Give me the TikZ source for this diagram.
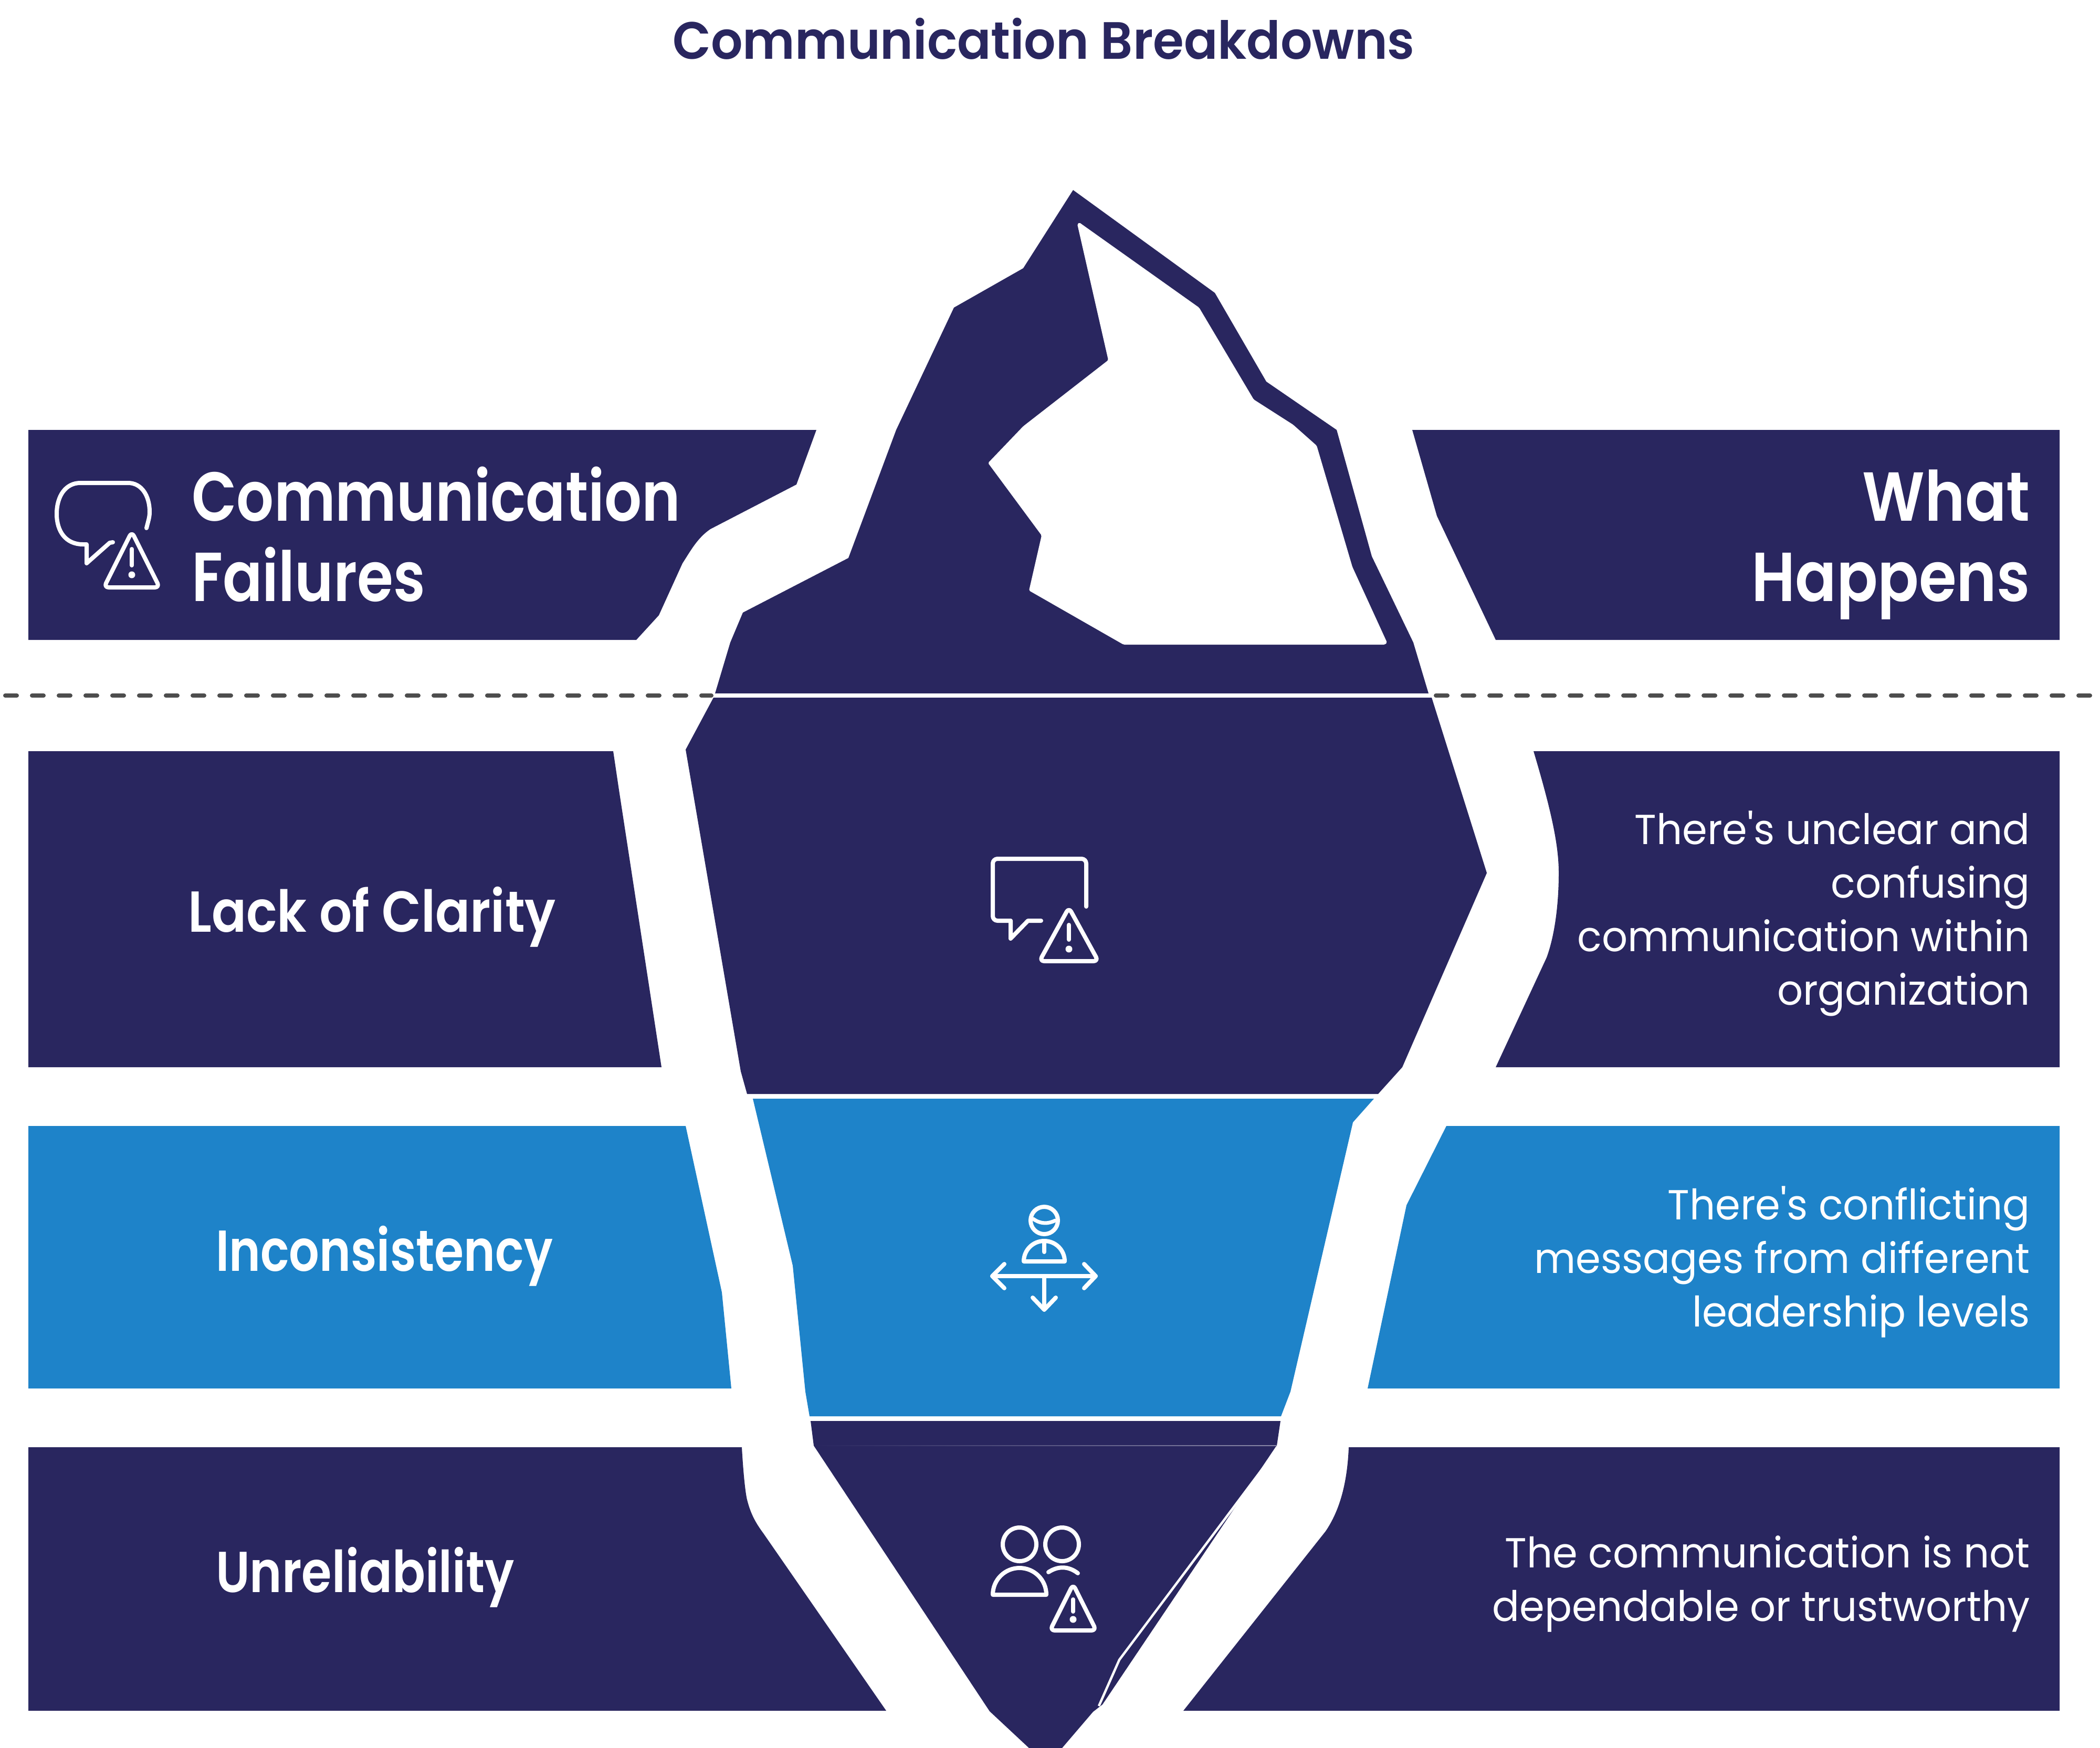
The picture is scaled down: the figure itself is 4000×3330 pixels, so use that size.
\documentclass[tikz,border=0pt]{standalone}
\usepackage{fontspec}
\setmainfont{Poppins}
\newfontfamily\headf[FakeStretch=0.845]{Poppins SemiBold}
\newfontfamily\titlef[FakeStretch=0.95]{Poppins SemiBold}
\newfontfamily\bodyf[FakeStretch=0.96]{Poppins}
\definecolor{navy}{HTML}{29265F}
\definecolor{sky}{HTML}{1E83C9}
\definecolor{dashc}{HTML}{4D4D4D}
\tikzset{
 panel/.style={fill=navy,draw=none},
 bluepanel/.style={fill=sky,draw=none},
 ico/.style={draw=white,line width=8pt,line cap=round,line join=round},
 head/.style={text=white,inner sep=0pt,font=\headf\fontsize{132}{153}\selectfont},
 sub/.style={text=white,inner sep=0pt,font=\headf\fontsize{110}{120}\selectfont},
 desc/.style={text=white,inner sep=0pt,align=right,font=\bodyf\fontsize{80}{102}\selectfont},
 wl/.style={dashc,line width=8pt,line cap=round,dash pattern=on 22pt off 29pt}
}
\newcommand{\warnicon}[7]{% apex x, apex y, half width, bottom y, excl top, excl bot, dot y
 \draw[ico,rounded corners=9pt] (#1,#2-4) -- (#1+#3+6,#4) -- (#1-#3-6,#4) -- cycle;
 \draw[ico] (#1,#5) -- (#1,#6);
 \fill[white] (#1,#7) circle[radius=6.5];
}
\begin{document}
\begin{tikzpicture}[x=1pt,y=-1pt]
\useasboundingbox (0,0) rectangle (4000,3330);
\fill[white] (0,0) rectangle (4000,3330);
% dashes
\coordinate (dl1) at (10,1325); \coordinate (dl2) at (1355,1325);
\coordinate (dr1) at (2735,1325); \coordinate (dr2) at (3990,1325);
\draw[wl] (dl1) -- (dl2);
\draw[wl] (dr1) -- (dr2);
% left panels
\fill[panel] (54,819) -- (1555,819) -- (1517,923) -- (1353,1008) .. controls (1328,1025) and (1315,1050) .. (1300,1073) -- (1255,1172) -- (1212,1219) -- (54,1219) -- cycle;
\fill[panel] (54,1431) -- (1168,1431) -- (1179,1505) -- (1260,2033) -- (54,2033) -- cycle;
\fill[bluepanel] (54,2145) -- (1306,2145) -- (1375,2462) -- (1393,2645) -- (54,2645) -- cycle;
\fill[panel] (54,2757) -- (1413,2757) .. controls (1416,2810) and (1420,2845) .. (1423,2857) .. controls (1430,2885) and (1440,2902) .. (1454,2921) -- (1688,3259) -- (54,3259) -- cycle;
% right panels
\fill[panel] (2690,819) -- (3923,819) -- (3923,1219) -- (2849,1219) -- (2737,983) -- cycle;
\fill[panel] (2921,1431) -- (3923,1431) -- (3923,2033) -- (2849,2033) -- (2946,1824) .. controls (2962,1780) and (2969,1720) .. (2969,1663) .. controls (2969,1610) and (2955,1545) .. (2921,1431) -- cycle;
\fill[bluepanel] (2755,2145) -- (3923,2145) -- (3923,2645) -- (2605,2645) -- (2679,2296) -- cycle;
\fill[panel] (2569,2757) -- (3923,2757) -- (3923,3259) -- (2254,3259) -- (2525,2917) .. controls (2550,2880) and (2566,2830) .. (2569,2757) -- cycle;
% iceberg top
\fill[panel] (2044,362) -- (1949,511) -- (1817,586) -- (1707,819) -- (1616,1063) -- (1415,1167) -- (1391,1224) -- (1362,1321) -- (2721,1321) -- (2692,1224) -- (2613,1060) -- (2546,819) -- (2412,727) -- (2314,558) -- cycle;
\fill[white,rounded corners=2pt] (2056,424) -- (2284,586) -- (2388,761) -- (2463,809) -- (2508,849) -- (2576,1080) -- (2642,1224) -- (2638,1228) -- (2140,1228) -- (1960,1125) -- (1984,1020) -- (1882,882) -- (1949,812) -- (2111,686) -- (2052,427) -- cycle;
% bands
\fill[panel] (1359,1329) -- (2727,1329) -- (2832,1663) -- (2671,2033) -- (2625,2084) -- (1423,2084) -- (1411,2041) -- (1306,1428) -- cycle;
\fill[bluepanel] (1434,2093) -- (2617,2093) -- (2577,2138) -- (2458,2651) -- (2440,2698) -- (1542,2698) -- (1534,2651) -- (1510,2411) -- cycle;
\fill[panel] (1544,2707) -- (2439,2707) -- (2432,2754) -- (2430,2756) -- (2100,3247) -- (2082,3261) -- (2023,3330) -- (1960,3330) -- (1885,3260) -- (1550,2754) -- cycle;
\draw[white,line width=4.5pt,line join=round] (2416,2783) -- (2132,3162) -- (2093,3250);
\shade[left color=navy,right color=white!45!navy] (1552,2753.3) rectangle (2432,2754.7);
% white separators
\draw[white,line width=8pt] (1362,1325) -- (2724,1325);
% title
\node[anchor=center,inner sep=0pt,text=navy,font=\titlef\fontsize{100}{110}\selectfont] (title) at (1988,74) {Communication Breakdowns};
% headings
\node[head,anchor=base west] (h1) at (365,992) {Communication};
\node[head,anchor=base west] (h2) at (365,1145) {Failures};
\node[head,anchor=base east] (h3) at (3867,992) {\scalebox{1.04}[1]{What}};
\node[head,anchor=base east] (h4) at (3867,1145) {\scalebox{1.04}[1]{Happens}};
\node[sub,anchor=base west] (s1) at (358,1775) {\scalebox{1.05}[1]{Lack of Clarity}};
\node[sub,anchor=base west] (s2) at (411,2421) {\scalebox{.975}[1]{Inconsistency}};
\node[sub,anchor=base west] (s3) at (411,3033) {Unreliability};
\node[desc,anchor=base east] (d1) at (3867,1914) {There's unclear and\\confusing\\communication within\\organization};
\node[desc,anchor=base east] (d2) at (3867,2527) {There's conflicting\\messages from different\\leadership levels};
\node[desc,anchor=base east] (d3) at (3867,3088) {The communication is not\\dependable or trustworthy};
% icon 1
\draw[ico] (279,1006) .. controls (283,990) and (285,985) .. (285,975) .. controls (285,945) and (270,920) .. (244,920) -- (153,920) .. controls (125,920) and (108,945) .. (108,979) .. controls (108,1012) and (125,1037) .. (158,1037) -- (165,1037) -- (165,1073) -- (209,1034) -- (215,1033);
\warnicon{251}{1017}{47}{1119}{1046}{1077}{1095}
% icon 2
\draw[ico,rounded corners=9pt] (2069,1727) -- (2069,1636) -- (1891,1636) -- (1891,1754) -- (1925,1754);
\draw[ico] (1925,1754) -- (1925,1788) -- (1958,1754) -- (1983,1754);
\warnicon{2036}{1733}{50}{1831}{1762}{1790}{1808}
% icon 3
\draw[ico] (1989,2325) circle[radius=26];
\draw[ico,line width=7pt] (1968,2322) .. controls (1982,2332) and (1996,2332) .. (2010,2325);
\draw[ico] (1950,2403) arc[start angle=180,end angle=360,radius=39] -- cycle;
\draw[ico] (1989,2365) -- (1989,2385);
\draw[ico] (1890,2431) -- (2087,2431);
\draw[ico] (1913,2408) -- (1890,2431) -- (1913,2454);
\draw[ico] (2065,2408) -- (2087,2431) -- (2065,2454);
\draw[ico] (1989,2431) -- (1989,2495);
\draw[ico] (1967,2472) -- (1989,2495) -- (2011,2472);
% icon 4
\draw[ico] (1942,2942) circle[radius=32];
\draw[ico] (2023,2942) circle[radius=32];
\draw[ico] (1891,3038) arc[start angle=180,end angle=360,radius=51] -- cycle;
\draw[ico] (1997,2995) .. controls (2015,2983) and (2035,2983) .. (2053,2997);
\warnicon{2044}{3022}{38}{3106}{3047}{3070}{3085}
\end{tikzpicture}
\end{document}
